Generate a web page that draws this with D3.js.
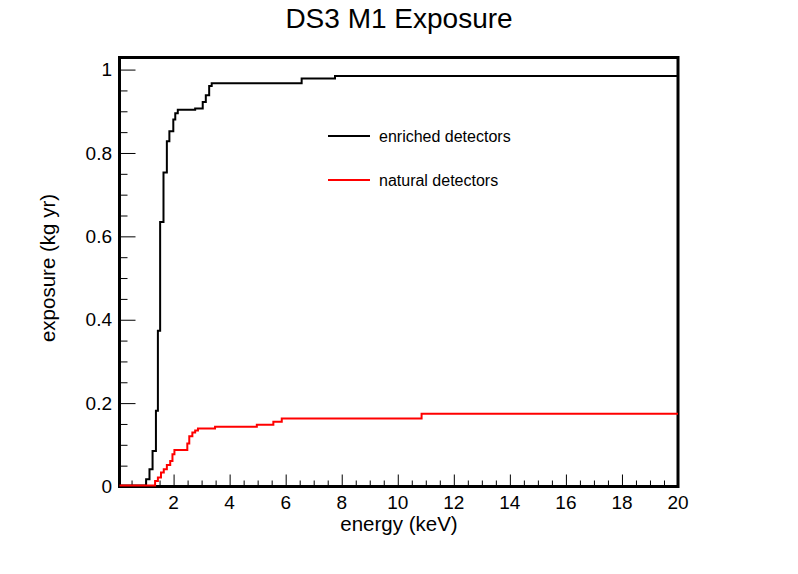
<!DOCTYPE html>
<html lang="en">
<head>
    <meta charset="UTF-8">
    <title>DS3 M1 Exposure</title>
    <style>
        body {
            margin: 0;
            background-color: white;
        }
        svg {
            display: block;
            font-family: "Liberation Sans", Arial, sans-serif;
        }
    </style>
    <script src="https://d3js.org/d3.v7.min.js"></script>
</head>
<body>
    <svg id="chart" width="798" height="574"></svg>

    <script>
        // step points: [energy (keV), exposure (kg yr)], value holds until next point
        const enrichedSteps = [
            [0.07, 0], [1.02, 0.015], [1.14, 0.039], [1.25, 0.083], [1.37, 0.179],
            [1.44, 0.371], [1.52, 0.632], [1.64, 0.751], [1.76, 0.826], [1.85, 0.850],
            [1.99, 0.878], [2.06, 0.893], [2.15, 0.901], [2.77, 0.904], [3.04, 0.920],
            [3.15, 0.936], [3.27, 0.958], [3.36, 0.965], [6.57, 0.976], [7.76, 0.982],
            [20, 0.982]
        ];
        const naturalSteps = [
            [0.07, 0], [1.34, 0.011], [1.44, 0.019], [1.55, 0.031], [1.65, 0.039],
            [1.76, 0.049], [1.88, 0.059], [1.96, 0.075], [2.03, 0.085], [2.49, 0.101],
            [2.56, 0.118], [2.67, 0.127], [2.77, 0.132], [2.87, 0.137], [3.48, 0.141],
            [4.97, 0.146], [5.56, 0.153], [5.86, 0.161], [10.85, 0.172], [20, 0.172]
        ];
        const xMajorTicks = [2, 4, 6, 8, 10, 12, 14, 16, 18, 20];
        const yMajorTicks = [0, 0.2, 0.4, 0.6, 0.8, 1];
        const legendLabels = ["enriched detectors", "natural detectors"];
        const seriesColors = ["#000000", "#ff0000"];

        const svg = d3.select("#chart");
        const frame = { left: 119.5, right: 678, top: 57.5, bottom: 486.5 };

        const x = d3.scaleLinear().domain([0.07, 20]).range([frame.left, frame.right]);
        const y = d3.scaleLinear().domain([0, 1.029]).range([frame.bottom, frame.top]);

        const xMinor = d3.range(0.5, 20.01, 0.5).filter(v => xMajorTicks.indexOf(v) < 0);
        const yMinor = d3.range(0.05, 1.01, 0.05).map(v => +v.toFixed(2))
                         .filter(v => yMajorTicks.indexOf(v) < 0);

        // title
        svg.append("text")
           .attr("x", 399)
           .attr("y", 28)
           .attr("text-anchor", "middle")
           .attr("font-size", "28px")
           .text("DS3 M1 Exposure");

        // frame
        svg.append("rect")
           .attr("x", frame.left)
           .attr("y", frame.top)
           .attr("width", frame.right - frame.left)
           .attr("height", frame.bottom - frame.top)
           .attr("fill", "none")
           .attr("stroke", "#000")
           .attr("stroke-width", 3);

        // x axis ticks (drawn inwards from the bottom)
        svg.append("g")
           .attr("transform", `translate(0,${frame.bottom})`)
           .call(d3.axisTop(x).tickValues(xMajorTicks).tickSize(12).tickFormat(""))
           .call(g => g.select(".domain").remove());
        svg.append("g")
           .attr("transform", `translate(0,${frame.bottom})`)
           .call(d3.axisTop(x).tickValues(xMinor).tickSize(6).tickFormat(""))
           .call(g => g.select(".domain").remove());

        // y axis ticks
        svg.append("g")
           .attr("transform", `translate(${frame.left},0)`)
           .call(d3.axisRight(y).tickValues(yMajorTicks).tickSize(16).tickFormat(""))
           .call(g => g.select(".domain").remove());
        svg.append("g")
           .attr("transform", `translate(${frame.left},0)`)
           .call(d3.axisRight(y).tickValues(yMinor).tickSize(8).tickFormat(""))
           .call(g => g.select(".domain").remove());

        // tick labels
        svg.append("g")
           .selectAll("text")
           .data(xMajorTicks)
           .enter().append("text")
           .attr("x", d => x(d))
           .attr("y", 508.5)
           .attr("text-anchor", "middle")
           .attr("font-size", "19px")
           .text(d => d);

        svg.append("g")
           .selectAll("text")
           .data(yMajorTicks)
           .enter().append("text")
           .attr("x", 112)
           .attr("y", d => y(d))
           .attr("dy", "0.35em")
           .attr("text-anchor", "end")
           .attr("font-size", "19px")
           .text(d => d3.format("~g")(d));

        // axis titles
        svg.append("text")
           .attr("x", 399)
           .attr("y", 531)
           .attr("text-anchor", "middle")
           .attr("font-size", "20.5px")
           .text("energy (keV)");

        svg.append("text")
           .attr("transform", "translate(55,268) rotate(-90)")
           .attr("text-anchor", "middle")
           .attr("font-size", "20.5px")
           .text("exposure (kg yr)");

        // step curves
        const line = d3.line()
                       .x(d => x(d[0]))
                       .y(d => y(d[1]))
                       .curve(d3.curveStepAfter);

        [enrichedSteps, naturalSteps].forEach((steps, i) => {
            svg.append("path")
               .datum(steps)
               .attr("fill", "none")
               .attr("stroke", seriesColors[i])
               .attr("stroke-width", 2)
               .attr("d", line)
               .attr("transform", "translate(0,-1)");
        });

        // legend
        const legend = svg.append("g");
        legendLabels.forEach((label, i) => {
            const ly = 136 + i * 44;
            legend.append("line")
                  .attr("x1", 328).attr("x2", 370)
                  .attr("y1", ly).attr("y2", ly)
                  .attr("stroke", seriesColors[i])
                  .attr("stroke-width", 2);
            legend.append("text")
                  .attr("x", 379)
                  .attr("y", ly)
                  .attr("dy", "0.35em")
                  .attr("font-size", "16px")
                  .text(label);
        });
    </script>
</body>
</html>
